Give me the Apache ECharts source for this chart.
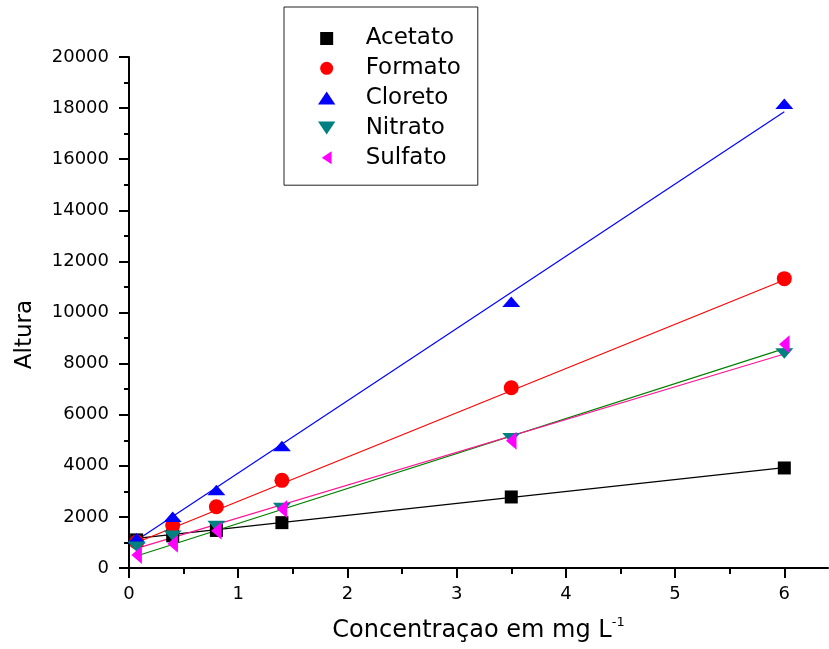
<!DOCTYPE html>
<html>
<head>
<meta charset="utf-8">
<script src="https://cdn.jsdelivr.net/npm/echarts@6/dist/echarts.min.js"></script>
<style>
  html, body { margin: 0; padding: 0; background: #fff; overflow: hidden; }
  #chart { width: 829px; height: 649px; }
</style>
</head>
<body>
<div id="chart"></div>
<script>
// ---- data ----
const concentrations = [0.07, 0.4, 0.8, 1.4, 3.5, 6];
const acetato = [1100, 1260, 1470, 1775, 2780, 3915];
const formato = [1020, 1660, 2400, 3430, 7055, 11325];
const cloreto = [1160, 2010, 3050, 4775, 10420, 18170];
const nitrato = [835, 1265, 1640, 2350, 5075, 8400];
const sulfato = [510, 950, 1460, 2310, 4985, 8755];

// linear-fit lines as drawn in the picture (start and end of each line)
const fitX = [0.07, 6];
const fitAcetato = [1160, 3925];
const fitFormato = [1000, 11270];
const fitCloreto = [1090, 17860];
const fitNitrato = [470, 8585];
const fitSulfato = [770, 8375];

const seriesNames = ['Acetato', 'Formato', 'Cloreto', 'Nitrato', 'Sulfato'];
const xTickLabels = ['0', '1', '2', '3', '4', '5', '6'];
const xMinorTicks = [0.5, 1.5, 2.5, 3.5, 4.5, 5.5];
const yTickLabels = ['0', '2000', '4000', '6000', '8000', '10000', '12000', '14000', '16000', '18000', '20000'];

// ---- chart ----
const font = 'DejaVu Sans';
const pts = (ys) => concentrations.map((x, i) => [x, ys[i]]);
const fit = (ys) => fitX.map((x, i) => [x, ys[i]]);

const markerColors = ['#000000', '#ff0000', '#0000ff', '#008080', '#ff00ff'];
const lineColors = ['#000000', '#ff0000', '#0000ff', '#008000', '#ff1493'];
const symbols = [
  'path://M0,0L1,0L1,1L0,1Z',
  'circle',
  'path://M1,0L2,1.5L0,1.5Z',
  'path://M0,0L2,0L1,1.5Z',
  'path://M0,1L1.5,0L1.5,2Z'
];
const sizes = [13, 15, [18, 14], [18, 14], [14, 18]];
const values = [acetato, formato, cloreto, nitrato, sulfato];
const fits = [fitAcetato, fitFormato, fitCloreto, fitNitrato, fitSulfato];

const series = [];
seriesNames.forEach((n, i) => {
  series.push({
    name: n + ' fit',
    type: 'line',
    data: fit(fits[i]),
    showSymbol: false,
    symbol: 'none',
    lineStyle: { color: lineColors[i], width: 1.2 },
    z: 1,
    silent: true,
    animation: false
  });
});
seriesNames.forEach((n, i) => {
  series.push({
    name: n,
    type: 'scatter',
    data: pts(values[i]),
    symbol: symbols[i],
    symbolSize: sizes[i],
    symbolKeepAspect: true,
    itemStyle: { color: markerColors[i], opacity: 1 },
    z: 3,
    animation: false
  });
});

const xMajor = xTickLabels.map(Number);
const yMajor = yTickLabels.map(Number);

const chart = echarts.init(document.getElementById('chart'), null, { renderer: 'canvas' });
chart.setOption({
  backgroundColor: '#ffffff',
  animation: false,
  grid: { left: 129, right: 1, top: 57, bottom: 81, containLabel: false },
  legend: {
    data: seriesNames,
    orient: 'vertical',
    left: 284,
    top: 7,
    padding: [20, 17, 16, 34],
    itemGap: 6.8,
    itemWidth: 18,
    itemHeight: 13,
    borderColor: '#222',
    borderWidth: 1,
    backgroundColor: '#fff',
    textStyle: { fontFamily: font, fontSize: 23, color: '#000', lineHeight: 23, padding: [0, 0, 0, 25] },
    selectedMode: false
  },
  xAxis: [{
    type: 'value',
    min: 0,
    max: 6.4,
    interval: 1,
    name: '{a|Concentraçao em mg L}{s|-1}',
    nameLocation: 'middle',
    nameGap: 48,
    nameTextStyle: {
      fontFamily: font, fontSize: 24, color: '#000',
      rich: {
        a: { fontFamily: font, fontSize: 24, color: '#000', lineHeight: 30 },
        s: { fontFamily: font, fontSize: 13, color: '#000', verticalAlign: 'top', lineHeight: 30 }
      }
    },
    axisLine: { show: true, onZero: false, lineStyle: { color: '#000', width: 2 } },
    axisTick: { show: true, inside: false, length: 10, customValues: xMajor, lineStyle: { color: '#000', width: 2 } },
    minorTick: { show: false },
    axisLabel: {
      customValues: xMajor,
      formatter: (v) => xTickLabels[xMajor.indexOf(v)] || '',
      fontFamily: font, fontSize: 18, color: '#000', margin: 17
    },
    splitLine: { show: false }
  }, {
    type: 'value',
    position: 'bottom',
    min: 0,
    max: 6.4,
    interval: 1,
    axisLine: { show: false },
    axisTick: { show: true, inside: false, length: 6, customValues: xMinorTicks, lineStyle: { color: '#000', width: 2 } },
    axisLabel: { show: false },
    splitLine: { show: false }
  }],
  yAxis: {
    type: 'value',
    min: 0,
    max: 20000,
    interval: 2000,
    name: 'Altura',
    nameLocation: 'middle',
    nameRotate: 90,
    nameGap: 92,
    nameTextStyle: { fontFamily: font, fontSize: 23, color: '#000', padding: [0, 44, 0, 0] },
    axisLine: { show: true, onZero: false, lineStyle: { color: '#000', width: 2 } },
    axisTick: { show: true, inside: false, length: 10, lineStyle: { color: '#000', width: 2 } },
    minorTick: { show: true, splitNumber: 2, length: 5, lineStyle: { color: '#000', width: 2 } },
    axisLabel: {
      customValues: yMajor,
      formatter: (v) => yTickLabels[yMajor.indexOf(v)] || '',
      fontFamily: font, fontSize: 18, color: '#000', margin: 20
    },
    splitLine: { show: false },
    minorSplitLine: { show: false }
  },
  series: series
});
</script>
</body>
</html>
